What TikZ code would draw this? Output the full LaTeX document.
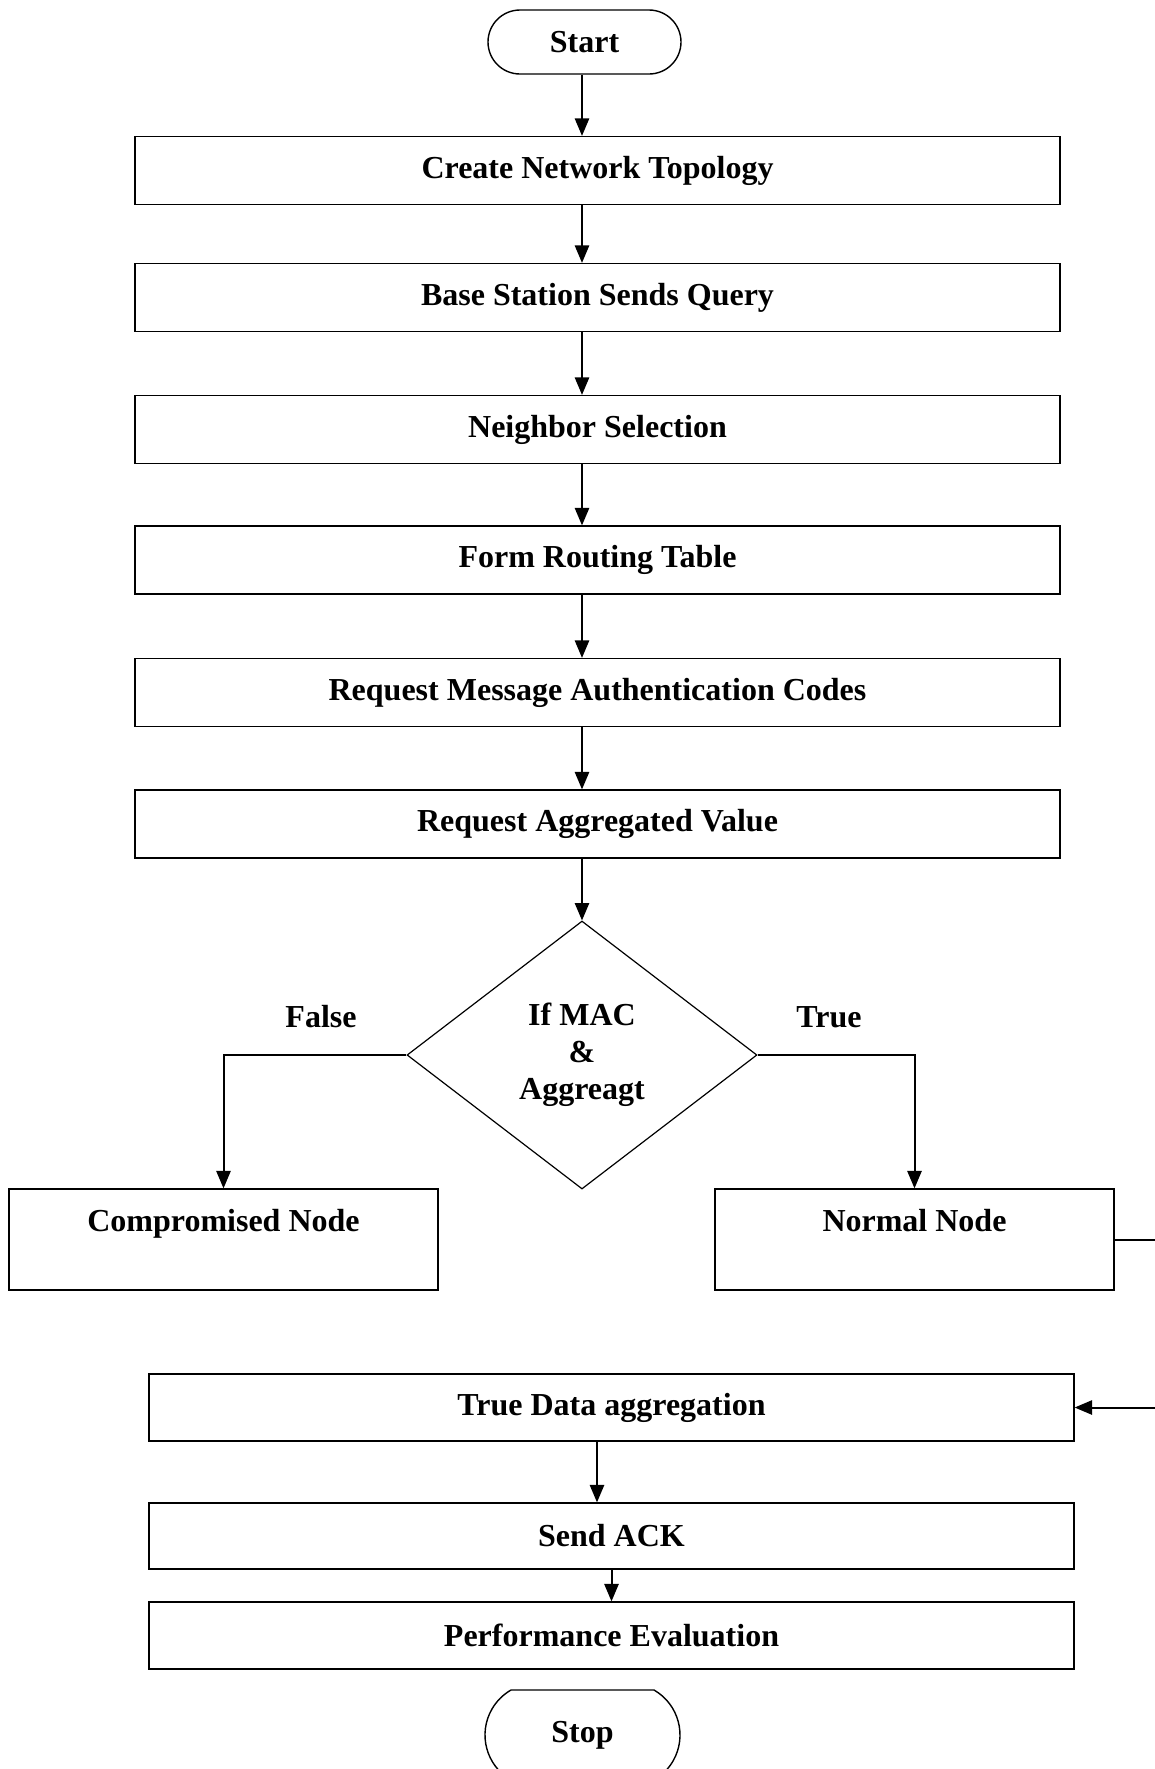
\documentclass[tikz,border=0pt]{standalone}
\usepackage{fontspec}
\setmainfont{Liberation Serif}
\usetikzlibrary{arrows}
\usetikzlibrary{shapes.geometric,shapes.misc}

\tikzset{
  stepbox/.style={rectangle, draw=black, line width=0.7pt, minimum width=462.5pt, minimum height=34pt, inner sep=0pt},
  sidebox/.style={rectangle, draw=black, line width=0.7pt, inner sep=0pt, text height=21pt, text depth=29.5pt},
  termbox/.style={rounded rectangle, draw=black, line width=0.7pt, minimum width=96.5pt, inner sep=0pt},
  flow/.style={-triangle 45, line width=1pt},
}

\begin{document}
\begin{tikzpicture}[x=0.5pt, y=-0.5pt, font=\fontsize{16}{18.5}\selectfont\bfseries]

      \useasboundingbox (0, 0) rectangle (1155, 1769);

      \node[termbox, minimum height=32pt] (start) at (584.5, 42) {Start};

      \node[stepbox] (topo) at (597.5, 170.5) {Create Network Topology};
      \node[stepbox] (query) at (597.5, 297.5) {Base Station Sends Query};
      \node[stepbox] (neigh) at (597.5, 429.5) {Neighbor Selection};
      \node[stepbox] (route) at (597.5, 560) {Form Routing Table};
      \node[stepbox] (macreq) at (597.5, 692.5) {Request Message Authentication Codes};
      \node[stepbox] (aggreq) at (597.5, 824) {Request Aggregated Value};

      \node[diamond, draw=black, line width=0.6pt, minimum width=175pt, minimum height=134pt, inner sep=0pt, align=center] (check) at (582, 1055) {If MAC\\\&\\Aggreagt};

      \node (nofalse) at (321, 1017) {False};
      \node (notrue) at (829, 1017) {True};

      \node[sidebox, minimum width=214.5pt] (comp) at (223.5, 1239.5) {Compromised Node};
      \node[sidebox, minimum width=199.5pt] (normal) at (914.5, 1239.5) {Normal Node};

      \node[stepbox, minimum height=33.5pt] (trueagg) at (611.5, 1407.5) {True Data aggregation};
      \node[stepbox, minimum height=33pt] (ack) at (611.5, 1536) {Send ACK};
      \node[stepbox, minimum height=33.5pt] (perf) at (611.5, 1635.5) {Performance Evaluation};

      \node[termbox, rounded rectangle arc length=120, minimum width=97.5pt, minimum height=45pt] (stop) at (582.5, 1735) {Stop};

      \coordinate (side) at (1190, 1239.5);

      \draw[flow] (start.south -| check.north) -- (topo.north -| check.north);
      \draw[flow] (topo.south -| check.north) -- (query.north -| check.north);
      \draw[flow] (query.south -| check.north) -- (neigh.north -| check.north);
      \draw[flow] (neigh.south -| check.north) -- (route.north -| check.north);
      \draw[flow] (route.south -| check.north) -- (macreq.north -| check.north);
      \draw[flow] (macreq.south -| check.north) -- (aggreq.north -| check.north);
      \draw[flow] (aggreq.south -| check.north) -- (check.north);

      \draw[flow] (check.west) -| (comp.north);
      \draw[flow] (check.east) -| (normal.north);

      \draw[flow] (normal.east) -- (side) |- (trueagg.east);

      \draw[flow] ([xshift=-7.25pt]trueagg.south) -- ([xshift=-7.25pt]ack.north);
      \draw[flow] (ack.south) -- (perf.north);

    \end{tikzpicture}
\end{document}
